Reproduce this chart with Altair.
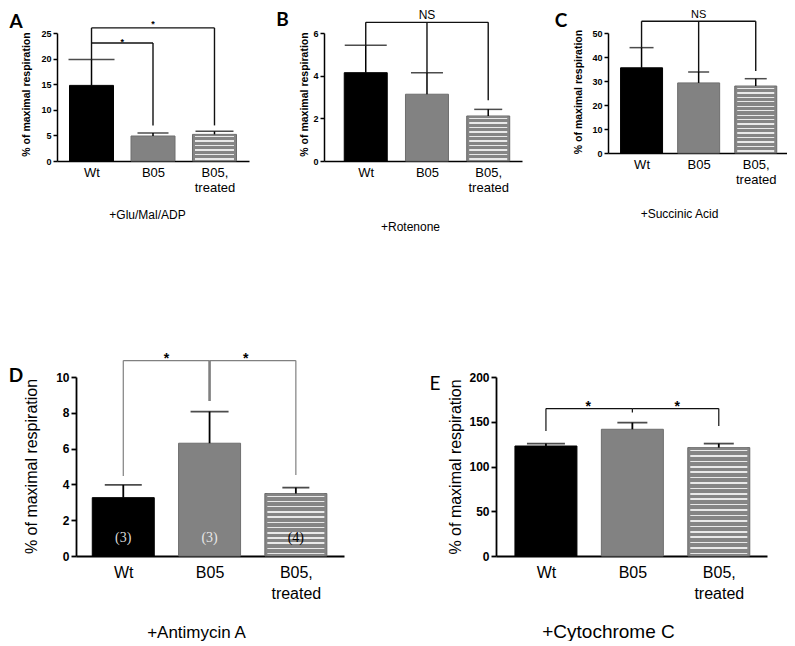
import altair as alt
import pandas as pd

# ---------------- data ----------------
GROUPS = ["Wt", "B05", "B05, treated"]
PANEL_LETTERS = ["A", "B", "C", "D", "E"]
X_TITLES = ["+Glu/Mal/ADP", "+Rotenone", "+Succinic Acid", "+Antimycin A", "+Cytochrome C"]
Y_TITLE = "% of maximal respiration"

A_MEAN = [14.77, 4.88, 5.20]
A_UPPER = [19.8, 5.47, 5.79]
B_MEAN = [4.14, 3.13, 2.11]
B_UPPER = [5.42, 4.14, 2.42]
C_MEAN = [35.5, 29.2, 27.9]
C_UPPER = [43.9, 33.75, 30.96]
D_MEAN = [3.26, 6.30, 3.49]
D_UPPER = [3.97, 8.07, 3.82]
E_MEAN = [122.9, 141.6, 121.1]
E_UPPER = [125.6, 149.0, 125.6]
D_COUNTS = ["(3)", "(3)", "(4)"]

A_TICKS = [0, 5, 10, 15, 20, 25]
B_TICKS = [0, 2, 4, 6]
C_TICKS = [0, 10, 20, 30, 40, 50]
D_TICKS = [0, 2, 4, 6, 8, 10]
E_TICKS = [0, 50, 100, 150, 200]

# significance brackets: spans (from group, to group, level); legs (group, bottom, level)
A_SPANS = [(0, 1, 23.05), (0, 2, 26.0)]
A_LEGS = [(0, 19.8, 26.0), (1, 6.95, 23.05), (2, 6.95, 26.0)]
A_MARKS = [(0.5, 23.55, "*"), (1.0, 27.1, "*")]
B_SPANS = [(0, 2, 6.5)]
B_LEGS = [(0, 5.42, 6.5), (1, 4.14, 6.5), (2, 2.85, 6.5)]
B_MARKS = [(1.0, 6.84, "NS")]
C_SPANS = [(0, 2, 54.9)]
C_LEGS = [(0, 43.9, 54.9), (1, 33.75, 54.9), (2, 34.2, 54.9)]
C_MARKS = [(1.0, 57.7, "NS")]
D_SPANS = [(0, 1, 10.92), (1, 2, 10.92)]
D_LEGS = [(0, 4.47, 10.92), (1, 8.66, 10.92), (2, 4.52, 10.92)]
D_MARKS = [(0.5, 11.17, "*"), (1.42, 11.17, "*")]
E_SPANS = [(0, 1, 164.7), (1, 2, 164.7)]
E_LEGS = [(0, 139.7, 164.7), (1, 160.3, 164.7), (2, 145.3, 164.7)]
E_MARKS = [(0.49, 169.5, "*"), (1.52, 169.5, "*")]

# ---------------- styles ----------------
FILLS = ["#000000", "#828282", "#858585"]
STROKES = ["#000000", "#6e6e6e", "#6a6a6a"]
COUNT_COLORS = ["#dcdcdc", "#e8e8e8", "#000000"]
FONT = "Liberation Sans"


def label_expr(groups):
    expr = "''"
    for i in reversed(range(len(groups))):
        pieces = groups[i].split(" ")
        if len(pieces) > 1:
            lit = "[" + ",".join("'%s'" % p for p in pieces) + "]"
        else:
            lit = "'%s'" % groups[i]
        expr = "datum.value == %d ? %s : (%s)" % (i, lit, expr)
    return expr


def stripe_gradient(height_px, pitch):
    n = max(1, round(height_px / pitch))
    p = 1.0 / n
    gray, light = "#858585", "#e9e9e9"
    stops = [alt.GradientStop(color=gray, offset=0)]
    for k in range(n):
        s = k * p
        a, b = s + 0.38 * p, s + 0.68 * p
        stops += [alt.GradientStop(color=gray, offset=a), alt.GradientStop(color=light, offset=a),
                  alt.GradientStop(color=light, offset=b), alt.GradientStop(color=gray, offset=b)]
    stops.append(alt.GradientStop(color=gray, offset=1))
    return alt.LinearGradient(gradient="linear", stops=stops, x1=0, x2=0, y1=0, y2=1)


def panel(k, mean, upper, ticks, spans, legs, marks, cfg, counts=None):
    n = len(GROUPS)
    df = pd.DataFrame({"idx": list(range(n)), "group": GROUPS, "mean": mean, "upper": upper,
                       "fill": FILLS, "stroke": STROKES, "cap": cfg["caps"]})
    xs = alt.Scale(domain=cfg["xdom"], nice=False, zero=False)
    ys = alt.Scale(domain=[ticks[0], ticks[-1]], nice=False, zero=True)
    big = cfg["big"]
    xaxis = alt.Axis(values=list(range(n)), labelExpr=label_expr(GROUPS), ticks=False, grid=False,
                     labelFlush=False, labelOverlap=False, labelFontSize=cfg["xlab"],
                     labelLineHeight=cfg["xlh"], labelPadding=cfg["xpad"], labelAlign="center",
                     labelBaseline="top", domainWidth=cfg["dw"],
                     title=X_TITLES[k], titleFontSize=cfg["xtfs"], titleFontWeight="normal",
                     titleX=cfg["xt"][0], titleY=cfg["xt"][1], titleAlign="center",
                     titleBaseline="middle", titleAngle=0)
    yaxis = alt.Axis(values=ticks, grid=False, labelFontSize=cfg["ylab"], labelFontWeight="bold",
                     labelPadding=cfg["ylpad"], tickSize=cfg["ts"], tickWidth=cfg["dw"],
                     domainWidth=cfg["dw"], labelFlush=False, labelOverlap=False,
                     title=Y_TITLE, titleFontSize=cfg["ytfs"],
                     titleFontWeight="normal" if big else "bold",
                     titleX=cfg["yt"][0], titleY=cfg["yt"][1], titleAlign="center",
                     titleBaseline="middle", titleAngle=-90)

    def X(f):
        return alt.X(f, type="quantitative", scale=xs, axis=xaxis)

    def Y(f):
        return alt.Y(f, type="quantitative", scale=ys, axis=yaxis)

    base = alt.Chart(df)
    bars = base.mark_bar(width=cfg["bw"], orient="vertical", strokeWidth=1).encode(
        x=X("idx"), y=Y("mean"),
        fill=alt.Fill("fill:N", scale=None), stroke=alt.Stroke("stroke:N", scale=None))
    hpx = mean[2] / ticks[-1] * cfg["h"]
    stripes = base.transform_filter("datum.idx == 2").mark_bar(
        width=cfg["bw"] - 5, orient="vertical", color=stripe_gradient(hpx, cfg["pitch"]),
        strokeWidth=0).encode(x=X("idx"), y=Y("mean"))
    err = base.mark_rule(color="black", strokeWidth=cfg["ew"]).encode(
        x=X("idx"), y=Y("mean"), y2="upper:Q")
    caps = base.mark_tick(orient="horizontal", color="black", thickness=cfg["ew"]).encode(
        x=X("idx"), y=Y("upper"), size=alt.Size("cap:Q", scale=None))

    rows = []
    for a, b, lv in spans:
        rows.append({"x": a, "x2": b, "y": lv, "y2": lv, "w": cfg["bkw"]})
    for g, bot, lv in legs:
        w = cfg["bkw"]
        if cfg.get("thick_mid") and g == 1:
            w = cfg["thick_mid"]
        rows.append({"x": g, "x2": g, "y": bot, "y2": lv, "w": w})
    bdf = pd.DataFrame(rows)
    brackets = alt.Chart(bdf).mark_rule(color=cfg["bkc"]).encode(
        x=X("x"), x2="x2:Q", y=Y("y"), y2="y2:Q",
        strokeWidth=alt.StrokeWidth("w:Q", scale=None))

    mdf = pd.DataFrame([{"x": x, "y": y, "t": t} for x, y, t in marks])
    mtext = alt.Chart(mdf).mark_text(font=FONT, fontSize=cfg["mfs"], fontWeight=cfg["mfw"],
                                     baseline="middle", align="center", dy=cfg["mdy"],
                                     color="black").encode(x=X("x"), y=Y("y"), text="t:N")

    letter = alt.Chart(alt.Data(values=[{"t": PANEL_LETTERS[k]}])).mark_text(
        font="Lato", fontSize=19, fontWeight=cfg["lw"], align="center", baseline="middle",
        color="black").encode(x=alt.value(cfg["let"][0]), y=alt.value(cfg["let"][1]), text="t:N")

    layers = [bars, stripes, err, caps, brackets, mtext, letter]
    if counts is not None:
        cdf = pd.DataFrame({"idx": list(range(n)), "t": counts, "c": COUNT_COLORS})
        layers.append(alt.Chart(cdf).mark_text(font="Liberation Serif", fontSize=14,
                                               baseline="middle", align="center").encode(
            x=X("idx"), y=alt.value(cfg["h"] - 18), text="t:N",
            color=alt.Color("c:N", scale=None)))
    return alt.layer(*layers).properties(width=cfg["w"], height=cfg["h"])


TOP = dict(big=False, xlab=13, xlh=15, xpad=5, xtfs=12, ylab=9, ylpad=2, ts=4, dw=1.5,
           ytfs=10.5, ew=1.5, bkw=1.4, bkc="#111111", mfs=9, mfw="bold", mdy=2, lw="bold",
           pitch=4.6)
BOT = dict(big=True, xlab=16, xlh=21, xpad=8, xtfs=17, ylab=12, ylpad=2, ts=5, dw=1.8,
           ytfs=16, ew=1.8, bkw=1.2, mfs=14, mfw="bold", mdy=3, pitch=5.3)

cfgA = dict(TOP, w=192, h=128, xdom=[-0.48, 2.48], bw=44, caps=[46, 31, 38],
            yt=(-31, 61), xt=(90, 53), let=(-41, -11.5))
cfgB = dict(TOP, w=198, h=128, xdom=[-0.6, 2.47], bw=43, caps=[42, 32, 28],
            yt=(-19.5, 61), xt=(86, 65), let=(-41.5, -13), mfs=12, mfw="normal", mdy=0)
cfgC = dict(TOP, w=179, h=120, xdom=[-0.5, 2.46], bw=42, caps=[24, 21, 22],
            yt=(-30, 58.5), xt=(71, 60), let=(-47, -12), mfs=11, mfw="normal", mdy=0)
cfgD = dict(BOT, w=268, h=179, xdom=[-0.49, 2.5], bw=62, caps=[37, 38, 27],
            yt=(-45, 89), xt=(120, 76), let=(-60, -1), bkc="#808080", thick_mid=2.6,
            lw="bold")
cfgE = dict(BOT, w=271, h=179, xdom=[-0.52, 2.5], bw=62, caps=[38, 30, 30],
            yt=(-41, 89.5), xt=(112, 75), let=(-61, 7), bkc="#111111", lw="normal",
            xtfs=19)

pA = panel(0, A_MEAN, A_UPPER, A_TICKS, A_SPANS, A_LEGS, A_MARKS, cfgA)
pB = panel(1, B_MEAN, B_UPPER, B_TICKS, B_SPANS, B_LEGS, B_MARKS, cfgB)
pC = panel(2, C_MEAN, C_UPPER, C_TICKS, C_SPANS, C_LEGS, C_MARKS, cfgC)
pD = panel(3, D_MEAN, D_UPPER, D_TICKS, D_SPANS, D_LEGS, D_MARKS, cfgD, counts=D_COUNTS)
pE = panel(4, E_MEAN, E_UPPER, E_TICKS, E_SPANS, E_LEGS, E_MARKS, cfgE)


def spacer(w):
    return alt.Chart(alt.Data(values=[{"a": 1}])).mark_point(
        opacity=0, size=1, strokeWidth=0).encode(
        x=alt.value(0), y=alt.value(0)).properties(width=w, height=1)


row1 = alt.hconcat(pA, spacer(75), pB, spacer(86), pC, spacing=0, bounds="flush")
row2 = alt.hconcat(spacer(19), pD, spacer(152), pE, spacing=0, bounds="flush")
chart = alt.vconcat(row1, row2, spacing=344, bounds="flush",
                    padding={"left": 0, "top": 0, "right": 0, "bottom": 0}).configure(
    padding={"left": 0, "top": 0, "right": 0, "bottom": 0}).configure_view(
    stroke=None).configure_axis(domainColor="black", tickColor="black", labelColor="black",
                                titleColor="black", labelFont=FONT, titleFont=FONT)

chart.save("out.html", embed_options={"renderer": "svg", "actions": False})
